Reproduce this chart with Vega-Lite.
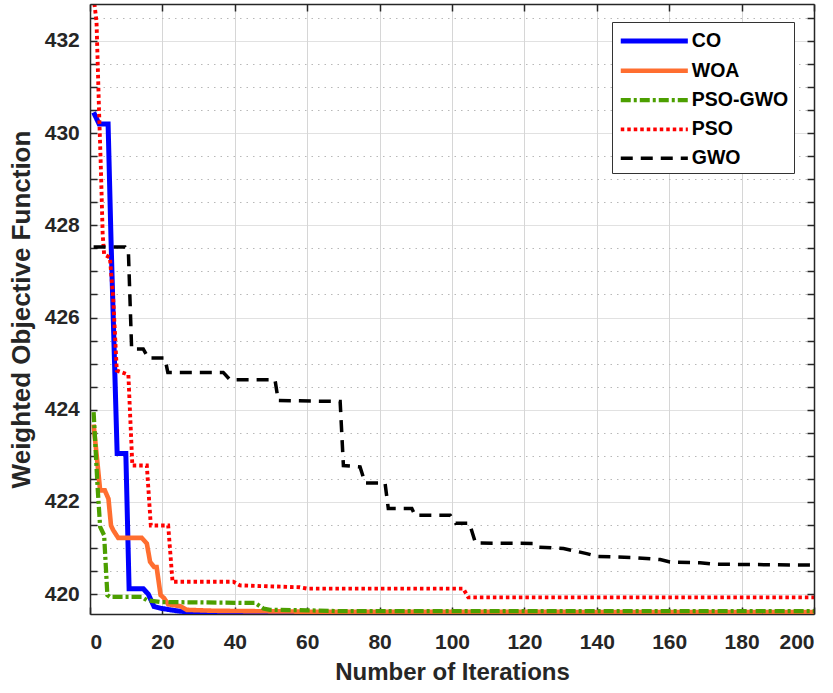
{
  "$schema": "https://vega.github.io/schema/vega-lite/v6.json",
  "width": 724,
  "height": 610,
  "autosize": {"type": "none"},
  "padding": {"left": 90, "top": 4, "right": 19, "bottom": 79},
  "background": "white",
  "config": {
    "font": "Liberation Sans",
    "view": {"stroke": null},
    "axis": {
      "domainColor": "#262626",
      "domainWidth": 1.5,
      "tickColor": "#262626",
      "tickWidth": 1.5,
      "labelFont": "Liberation Sans",
      "labelFontWeight": "bold",
      "labelFontSize": 21,
      "labelColor": "#262626",
      "titleFont": "Liberation Sans",
      "titleFontWeight": "bold",
      "titleFontSize": 24,
      "titleColor": "#262626"
    },
    "legend": {
      "orient": "none",
      "legendX": 522,
      "legendY": 18,
      "title": null,
      "labelFont": "Liberation Sans",
      "labelFontWeight": "bold",
      "labelFontSize": 19.5,
      "labelColor": "#000000",
      "symbolType": "M-3,0L3,0",
      "symbolSize": 500,
      "symbolOffset": 23.3,
      "labelOffset": 23.5,
      "strokeColor": "#333333",
      "fillColor": "white",
      "padding": 5,
      "rowPadding": 6.3
    }
  },
  "data": {
    "values": [
      {"s": "CO", "x": 1, "y": 430.45},
      {"s": "CO", "x": 2.5, "y": 430.2},
      {"s": "CO", "x": 5, "y": 430.2},
      {"s": "CO", "x": 5.8, "y": 427.7},
      {"s": "CO", "x": 7.5, "y": 423.05},
      {"s": "CO", "x": 9.9, "y": 423.05},
      {"s": "CO", "x": 10.8, "y": 420.12},
      {"s": "CO", "x": 14.7, "y": 420.12},
      {"s": "CO", "x": 16.1, "y": 420.0},
      {"s": "CO", "x": 17.7, "y": 419.73},
      {"s": "CO", "x": 19.8, "y": 419.69},
      {"s": "CO", "x": 23.9, "y": 419.64},
      {"s": "CO", "x": 28.5, "y": 419.6},
      {"s": "CO", "x": 40, "y": 419.59},
      {"s": "CO", "x": 200, "y": 419.59},

      {"s": "WOA", "x": 1, "y": 423.68},
      {"s": "WOA", "x": 2.8, "y": 422.25},
      {"s": "WOA", "x": 4.1, "y": 422.25},
      {"s": "WOA", "x": 5.1, "y": 422.07},
      {"s": "WOA", "x": 5.8, "y": 421.49},
      {"s": "WOA", "x": 6.4, "y": 421.39},
      {"s": "WOA", "x": 7.8, "y": 421.22},
      {"s": "WOA", "x": 14.3, "y": 421.22},
      {"s": "WOA", "x": 15.7, "y": 421.1},
      {"s": "WOA", "x": 16.6, "y": 420.7},
      {"s": "WOA", "x": 17.7, "y": 420.59},
      {"s": "WOA", "x": 18.4, "y": 420.59},
      {"s": "WOA", "x": 19.5, "y": 419.98},
      {"s": "WOA", "x": 20.4, "y": 419.92},
      {"s": "WOA", "x": 21.6, "y": 419.78},
      {"s": "WOA", "x": 24.9, "y": 419.74},
      {"s": "WOA", "x": 26.7, "y": 419.66},
      {"s": "WOA", "x": 34, "y": 419.64},
      {"s": "WOA", "x": 60, "y": 419.62},
      {"s": "WOA", "x": 200, "y": 419.61},

      {"s": "PSO-GWO", "x": 1, "y": 423.95},
      {"s": "PSO-GWO", "x": 2.1, "y": 422.32},
      {"s": "PSO-GWO", "x": 2.8, "y": 421.46},
      {"s": "PSO-GWO", "x": 3.9, "y": 421.28},
      {"s": "PSO-GWO", "x": 4.8, "y": 419.98},
      {"s": "PSO-GWO", "x": 5.5, "y": 419.94},
      {"s": "PSO-GWO", "x": 14.3, "y": 419.94},
      {"s": "PSO-GWO", "x": 15.7, "y": 419.87},
      {"s": "PSO-GWO", "x": 19.3, "y": 419.83},
      {"s": "PSO-GWO", "x": 44.2, "y": 419.81},
      {"s": "PSO-GWO", "x": 45.6, "y": 419.81},
      {"s": "PSO-GWO", "x": 47.9, "y": 419.69},
      {"s": "PSO-GWO", "x": 49.7, "y": 419.66},
      {"s": "PSO-GWO", "x": 60, "y": 419.65},
      {"s": "PSO-GWO", "x": 70, "y": 419.63},
      {"s": "PSO-GWO", "x": 200, "y": 419.63},

      {"s": "PSO", "x": 1, "y": 432.95},
      {"s": "PSO", "x": 1.8, "y": 432.42},
      {"s": "PSO", "x": 2.5, "y": 430.48},
      {"s": "PSO", "x": 3.0, "y": 429.25},
      {"s": "PSO", "x": 3.5, "y": 427.81},
      {"s": "PSO", "x": 3.9, "y": 427.37},
      {"s": "PSO", "x": 5.5, "y": 427.3},
      {"s": "PSO", "x": 6.4, "y": 426.43},
      {"s": "PSO", "x": 7.4, "y": 424.85},
      {"s": "PSO", "x": 10.6, "y": 424.76},
      {"s": "PSO", "x": 11.7, "y": 422.79},
      {"s": "PSO", "x": 15.7, "y": 422.79},
      {"s": "PSO", "x": 16.8, "y": 421.49},
      {"s": "PSO", "x": 21.6, "y": 421.49},
      {"s": "PSO", "x": 22.8, "y": 420.27},
      {"s": "PSO", "x": 39.6, "y": 420.27},
      {"s": "PSO", "x": 41.4, "y": 420.19},
      {"s": "PSO", "x": 58, "y": 420.15},
      {"s": "PSO", "x": 60, "y": 420.12},
      {"s": "PSO", "x": 103.1, "y": 420.12},
      {"s": "PSO", "x": 104.5, "y": 419.93},
      {"s": "PSO", "x": 200, "y": 419.93},

      {"s": "GWO", "x": 1, "y": 427.53},
      {"s": "GWO", "x": 9.7, "y": 427.53},
      {"s": "GWO", "x": 10.6, "y": 427.45},
      {"s": "GWO", "x": 11.5, "y": 425.32},
      {"s": "GWO", "x": 14.7, "y": 425.32},
      {"s": "GWO", "x": 16.1, "y": 425.12},
      {"s": "GWO", "x": 20.7, "y": 425.12},
      {"s": "GWO", "x": 21.5, "y": 424.81},
      {"s": "GWO", "x": 36.8, "y": 424.81},
      {"s": "GWO", "x": 38.7, "y": 424.65},
      {"s": "GWO", "x": 51.1, "y": 424.65},
      {"s": "GWO", "x": 52, "y": 424.2},
      {"s": "GWO", "x": 69.1, "y": 424.18},
      {"s": "GWO", "x": 70, "y": 422.79},
      {"s": "GWO", "x": 74.6, "y": 422.76},
      {"s": "GWO", "x": 76, "y": 422.41},
      {"s": "GWO", "x": 81.5, "y": 422.41},
      {"s": "GWO", "x": 82.4, "y": 421.86},
      {"s": "GWO", "x": 88.9, "y": 421.86},
      {"s": "GWO", "x": 89.8, "y": 421.71},
      {"s": "GWO", "x": 99.5, "y": 421.71},
      {"s": "GWO", "x": 101, "y": 421.54},
      {"s": "GWO", "x": 104.8, "y": 421.54},
      {"s": "GWO", "x": 106.5, "y": 421.11},
      {"s": "GWO", "x": 122.5, "y": 421.1},
      {"s": "GWO", "x": 123.8, "y": 421.02},
      {"s": "GWO", "x": 130.8, "y": 420.99},
      {"s": "GWO", "x": 137.2, "y": 420.88},
      {"s": "GWO", "x": 140, "y": 420.82},
      {"s": "GWO", "x": 151, "y": 420.79},
      {"s": "GWO", "x": 157.5, "y": 420.75},
      {"s": "GWO", "x": 160.2, "y": 420.7},
      {"s": "GWO", "x": 168.5, "y": 420.68},
      {"s": "GWO", "x": 172.2, "y": 420.65},
      {"s": "GWO", "x": 200, "y": 420.63}
    ]
  },
  "layer": [
    {
      "mark": {"type": "point", "opacity": 0},
      "encoding": {
        "x": {
          "field": "x", "type": "quantitative",
          "scale": {"domain": [0, 200], "nice": false, "zero": false},
          "axis": {
            "orient": "top", "labels": false, "title": null, "grid": false,
            "values": [0, 20, 40, 60, 80, 100, 120, 140, 160, 180, 200],
            "tickSize": -7, "zindex": 1
          }
        },
        "y": {
          "field": "y", "type": "quantitative",
          "scale": {"domain": [419.57, 432.8], "nice": false, "zero": false},
          "axis": {
            "orient": "right", "labels": false, "title": null, "grid": false,
            "values": [420, 420.5, 421, 421.5, 422, 422.5, 423, 423.5, 424, 424.5, 425, 425.5, 426, 426.5, 427, 427.5, 428, 428.5, 429, 429.5, 430, 430.5, 431, 431.5, 432, 432.5],
            "tickSize": -7, "zindex": 1
          }
        }
      }
    },
    {
      "mark": {"type": "line", "clip": true},
      "encoding": {
        "x": {
          "field": "x", "type": "quantitative",
          "scale": {"domain": [0, 200], "nice": false, "zero": false},
          "axis": {
            "orient": "bottom",
            "title": "Number of Iterations",
            "values": [0, 20, 40, 60, 80, 100, 120, 140, 160, 180, 200],
            "grid": true, "gridColor": "#d6d6d6", "gridWidth": 1,
            "tickSize": -7, "labelPadding": 24.5, "titlePadding": 8
          }
        },
        "y": {
          "field": "y", "type": "quantitative",
          "scale": {"domain": [419.57, 432.8], "nice": false, "zero": false},
          "axis": {
            "orient": "left",
            "title": "Weighted Objective Function",
            "titleFontSize": 26,
            "values": [420, 420.5, 421, 421.5, 422, 422.5, 423, 423.5, 424, 424.5, 425, 425.5, 426, 426.5, 427, 427.5, 428, 428.5, 429, 429.5, 430, 430.5, 431, 431.5, 432, 432.5],
            "labelExpr": "datum.value % 2 == 0 ? format(datum.value, 'd') : ''",
            "grid": true,
            "gridColor": {"condition": {"test": "datum.value % 2 == 0", "value": "#d6d6d6"}, "value": "#b8b8b8"},
            "gridDash": {"condition": {"test": "datum.value % 2 == 0", "value": [1, 0]}, "value": [1.5, 5]},
            "gridWidth": 1,
            "tickSize": -7, "labelPadding": 17.7, "titlePadding": 10
          }
        },
        "color": {
          "field": "s", "type": "nominal",
          "scale": {
            "domain": ["CO", "WOA", "PSO-GWO", "PSO", "GWO"],
            "range": ["#0000ff", "#ff6e30", "#4c9f00", "#ff0000", "#000000"]
          },
          "legend": {"title": null}
        },
        "strokeDash": {
          "field": "s", "type": "nominal",
          "scale": {
            "domain": ["CO", "WOA", "PSO-GWO", "PSO", "GWO"],
            "range": [[1, 0], [1, 0], [10, 3, 3, 3], [3.5, 3], [12, 8]]
          },
          "legend": {"title": null}
        },
        "strokeWidth": {
          "field": "s", "type": "nominal",
          "scale": {
            "domain": ["CO", "WOA", "PSO-GWO", "PSO", "GWO"],
            "range": [5, 3.5, 3.5, 3.5, 3.5]
          },
          "legend": {"title": null}
        }
      }
    }
  ],
  "resolve": {"axis": {"x": "independent", "y": "independent"}}
}
